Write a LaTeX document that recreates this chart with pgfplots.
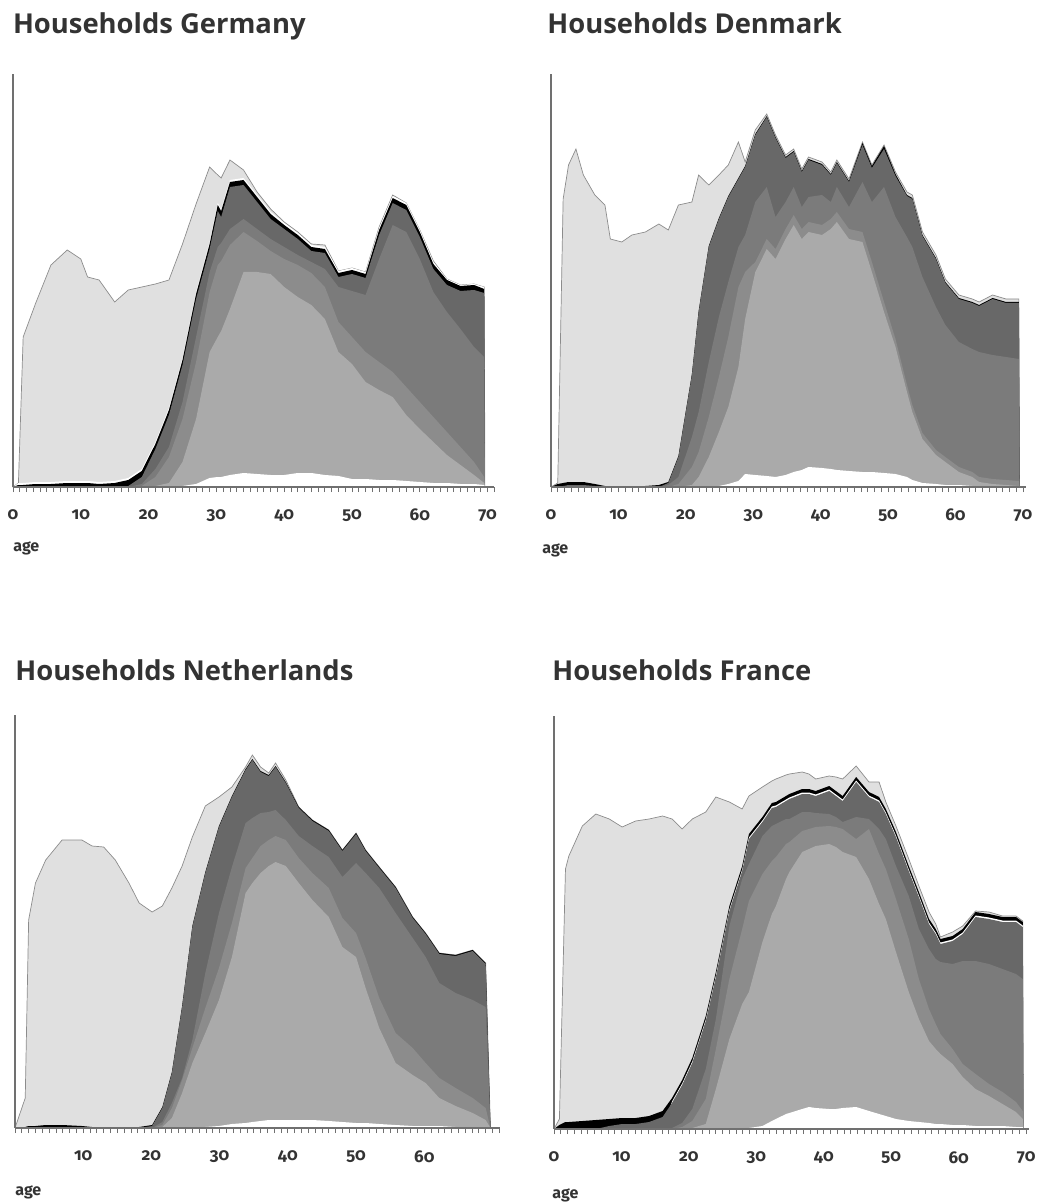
\documentclass[border=0pt]{standalone}
\usepackage{fontspec}
\usepackage{pgfplots}
\usepackage{pgfplotstable}
\pgfplotsset{compat=1.18}

\newfontfamily\titlefont{Open Sans}
\newfontfamily\tickfont{Fira Sans}[Numbers=OldStyle]

\definecolor{ctop}{HTML}{E0E0E0}
\definecolor{cline}{HTML}{8C8C8C}
\definecolor{c2}{HTML}{AAAAAA}
\definecolor{c3}{HTML}{8C8C8C}
\definecolor{c4}{HTML}{7B7B7B}
\definecolor{c5}{HTML}{686868}
\definecolor{caxis}{HTML}{707070}
\definecolor{ctext}{HTML}{333333}

% cumulative layer tops, in px above the axis
% w white, a light grey, b mid grey, c darker grey, d darkest grey, k black, t top (light)
\pgfplotstableread{
age w a b c d k t
0 0 0 0 0 0 0 0
0.8 0 0 0 0 0 2 4
1.5 0 0 0 0 0 2 150
3.3 0 0 0 0 0 3 183
5.6 0 0 0 0 0 3 222
8 0 0 0 0 0 4 237
10 0 0 0 0 0 4 228
11 0 0 0 0 0 4 210
12.7 0 0 0 0 0 3 207
15 0 0 0 0 0 4 185
17 0 0 0 0 1 7 197
19 0 0 1 3 10 16 200
21 0 1 10 18 38 43 203
23 0 4 30 40 72 77 207
25 1 25 68 85 122 127 243
27 3 68 125 150 188 193 283
29 9 135 195 215 238 243 320
30.2 10 150 222 240 276 282 312
30.7 10 156 226 244 270 276 309
32 12 178 242 258 300 305 327
34 14 215 255 268 302 307 317
36 13 215 246 258 285 290 295
38 12 213 236 248 268 273 278
40 12 200 228 240 258 262 265
42 14 190 222 232 248 252 255
44 14 182 214 225 236 240 243
46 12 168 200 218 234 238 242
48 11 135 165 200 210 214 216
50 8 123 150 196 213 217 219
52 8 105 135 192 209 213 215
54 7 97 125 228 252 257 260
56 7 90 115 262 284 289 292
58 6 72 100 255 277 282 284
60 5 58 85 228 250 255 257
62 4 45 70 195 218 223 226
64 4 32 55 175 202 207 208
66 3 22 40 158 196 201 202
68 3 12 25 140 197 202 203
69.5 2 4 10 130 194 198 200
69.6 0 0 0 0 0 0 0
}\gertab

\pgfplotstableread{
age w a b c d k t
0 0 0 0 0 0 0 0
1.0 0 0 0 0 0 3 4
1.8 0 0 0 0 1 4 288
2.6 0 0 0 0 2 5 322
3.7 0 0 0 0 2 5 338
4.8 0 0 0 0 2 5 312
6.5 0 0 0 0 1 3 292
8 0 0 0 0 0 1 282
8.8 0 0 0 0 0 1 248
10.5 0 0 0 0 0 1 245
12 0 0 0 0 0 1 252
14 0 0 0 0 0 1 255
16 0 0 0 0 0 2 263
17.4 0 0 0 2 4 5 257
18.9 0 0 3 10 30 31 282
20.9 0 2 20 50 112 113 285
21.9 0 10 35 75 175 176 312
23.4 0 30 70 125 240 241 302
24.9 1 55 110 170 268 269 312
26.3 3 80 150 205 290 291 322
27.8 6 120 200 240 308 309 345
28.8 13 168 215 252 320 321 325
30.3 12 215 225 285 352 353 357
32 11 238 248 300 370 371 373
33.3 10 228 238 270 349 350 352
34.8 12 248 258 285 329 330 332
36 15 262 272 300 335 336 338
37.2 17 248 258 280 315 316 318
38.2 20 255 265 290 327 328 330
40.2 19 252 262 292 322 323 325
41.5 18 258 268 285 312 313 315
42.4 17 265 275 300 324 325 327
44.2 16 248 258 280 305 306 308
46.2 15 245 255 305 342 344 345
47.6 15 215 225 285 319 321 322
49.4 14 175 185 300 338 341 342
51.1 13 140 148 270 311 313 315
52.8 10 95 102 250 291 292 295
53.6 7 75 82 240 288 289 292
55.1 4 48 54 210 251 252 255
57.1 3 32 37 180 228 229 232
58.5 2 25 30 162 204 205 208
60.5 2 15 20 145 188 189 192
62.5 1 10 15 138 184 185 188
63.5 1 5 10 135 181 182 185
65.5 1 3 8 132 188 189 192
67.5 1 2 7 130 184 185 188
69.4 0 1 6 128 184 185 188
69.5 0 0 0 0 0 0 0
}\dentab

\pgfplotstableread{
age w a b c d k t
0 0 0 0 0 0 0 0
1.5 0 0 0 0 0 1 30
2 0 0 0 0 0 2 208
3 0 0 0 0 0 2 245
4.5 0 0 0 0 1 3 268
6.9 0 0 0 0 1 3 288
9.8 0 0 0 0 0 2 288
11.3 0 0 0 0 0 1 282
13 0 0 0 0 0 1 281
14.7 0 0 0 0 0 1 268
16.7 0 0 0 0 0 1 245
18.2 0 0 0 0 0 1 225
20.1 0 0 0 0 2 3 216
21.6 0 1 3 6 20 21 222
23 0 10 20 25 55 56 240
24.5 0 35 48 50 121 122 262
26 0 65 80 88 201 202 291
27.9 1 95 120 155 255 256 322
29.9 2 128 160 215 301 302 331
31.8 4 171 205 261 331 332 341
33.8 5 235 260 305 358 359 361
34.8 6 245 270 310 368 369 373
36 7 255 282 315 356 357 361
37.2 8 262 288 316 352 353 355
38.2 8 266 292 318 361 362 365
39.7 8 262 288 308 345 346 348
41.6 8 245 270 292 320 321 321
43.6 8 228 255 282 307 308 308
46 7 211 240 271 297 298 298
48 6 181 210 251 277 278 278
50 5 171 195 265 294 295 295
51.4 5 140 170 255 277 278 278
53.4 4 100 130 240 260 261 261
55.8 3 65 95 215 240 241 241
58.3 2 53 80 190 210 211 211
60.2 2 45 65 171 194 195 195
62.2 2 30 50 145 174 175 175
64.6 1 22 40 135 172 173 173
67.1 1 15 30 128 177 178 178
69 1 8 20 121 164 165 165
69.7 0 0 0 0 0 0 0
}\nltab

\pgfplotstableread{
age w a b c d k t
0 0 0 0 0 0 0 0
0.8 0 0 0 0 0 4 10
1.7 0 0 0 0 0 7 260
2.2 0 0 0 0 0 7 273
4.2 0 0 0 0 0 8 303
6.2 0 0 0 0 0 9 315
8.2 0 0 0 0 3 10 310
10.1 0 0 0 0 5 11 302
12.1 0 0 0 0 5 11 308
14.1 0 0 0 0 7 13 310
16.1 0 0 0 0 12 18 313
17.5 0 0 0 1 26 31 310
19 0 0 2 6 44 49 300
20.5 0 1 8 20 66 71 310
22.5 0 5 30 60 108 113 317
24 0 40 80 110 152 157 332
26 0 90 150 203 218 223 327
27.9 0 125 200 250 258 263 320
28.9 1 137 228 265 290 295 333
30.9 3 187 255 293 307 312 342
32.3 8 215 268 303 321 326 348
32.9 10 223 272 305 322 327 350
34.4 15 250 285 310 328 333 354
34.9 16 257 287 310 330 335 355
36.8 20 277 298 317 335 340 357
37.8 22 280 300 317 335 340 355
38.8 21 283 302 316 333 338 350
40.8 20 285 303 315 338 343 353
41.8 20 282 302 312 333 338 352
42.8 21 277 300 307 328 333 350
44.8 22 272 290 312 347 352 363
46.7 18 250 300 310 332 337 347
48.2 15 225 275 300 327 332 347
49.2 13 210 260 290 315 320 327
50.7 10 177 230 263 292 297 303
52.6 8 137 190 233 258 263 270
54.1 7 110 150 200 232 237 243
55.6 6 88 120 180 205 210 217
56.6 5 80 105 170 195 200 205
57.3 5 75 95 167 185 190 192
59.1 4 65 80 165 188 193 197
60.6 4 52 65 168 195 200 203
62.5 3 40 55 168 212 217 218
64.5 3 33 45 165 210 215 217
66.5 3 25 37 160 207 212 213
68.5 2 17 27 155 207 212 213
69.5 2 10 18 150 202 207 208
69.6 0 0 0 0 0 0 0
}\frtab

\pgfplotsset{
  hh/.style={
    scale only axis, height=206.5pt,
    xmin=0, ymin=0, ymax=413,
    axis x line=bottom, axis y line=left,
    axis line style={-, draw=caxis, line width=0.6pt},
    axis on top,
    ytick=\empty,
    minor xtick={0,1,...,71},
    tick align=outside,
    major tick length=2.6pt, minor tick length=2.6pt,
    tick style={draw=caxis, line width=0.4pt},
    xticklabel style={font=\tickfont\bfseries\fontsize{8.5}{10}\selectfont, text=ctext, yshift=-5pt},
  },
  lay/.style={draw=none, fill=#1},
}

\newcommand{\toplayers}[1]{%
  \addplot[fill=ctop, draw=cline, line width=0.35pt] table[x=age,y=t]{#1} \closedcycle;
  \addplot[lay=black] table[x=age,y=k]{#1} \closedcycle;
}
\newcommand{\lowlayers}[1]{%
  \addplot[lay=c5] table[x=age,y=d]{#1} \closedcycle;
  \addplot[lay=c4] table[x=age,y=c]{#1} \closedcycle;
  \addplot[lay=c3] table[x=age,y=b]{#1} \closedcycle;
  \addplot[lay=c2] table[x=age,y=a]{#1} \closedcycle;
  \addplot[lay=white] table[x=age,y=w]{#1} \closedcycle;
}

\begin{document}
\begin{tikzpicture}
\useasboundingbox (0,0) rectangle (519.5pt,-601pt);

% Germany
\begin{axis}[hh, at={(6.5pt,-243.5pt)}, anchor=south west, width=240.7pt, xmax=71,
  xtick={0,10,...,70}, xticklabels={0,10,20,30,40,50,60,70}]
\addplot[fill=ctop, draw=cline, line width=0.35pt] table[x=age,y=t]{\gertab} \closedcycle;
\addplot[lay=white] table[x=age, y expr={min(\thisrow{k}+2,\thisrow{t})}]{\gertab} \closedcycle;
\addplot[lay=black] table[x=age,y=k]{\gertab} \closedcycle;
\lowlayers{\gertab}
\end{axis}

% Denmark
\begin{axis}[hh, at={(275.5pt,-243.5pt)}, anchor=south west, width=237.3pt, xmax=70.4,
  xtick={0,10,...,70}, xticklabels={0,10,20,30,40,50,60,70}]
\toplayers{\dentab}
\lowlayers{\dentab}
\end{axis}

% Netherlands
\begin{axis}[hh, at={(7.5pt,-564pt)}, anchor=south west, width=242.5pt, xmax=71.1,
  xtick={10,20,...,60}, xticklabels={10,20,30,40,50,60}]
\toplayers{\nltab}
\lowlayers{\nltab}
\end{axis}

% France
\begin{axis}[hh, at={(277pt,-564.5pt)}, anchor=south west, width=237.4pt, xmax=70.4,
  xtick={0,10,...,70}, xticklabels={0,10,20,30,40,50,60,70}]
\toplayers{\frtab}
\addplot[lay=white] table[x=age, y expr={\thisrow{k}>25 ? \thisrow{k}-3.5 : 0}]{\frtab} \closedcycle;
\lowlayers{\frtab}
\end{axis}

\begin{scope}[every node/.style={inner sep=0pt, text=ctext}]
\node[anchor=base west, font=\titlefont\bfseries\fontsize{13.7}{16}\selectfont] at (6.3pt,-17pt) {Households Germany};
\node[anchor=base west, font=\titlefont\bfseries\fontsize{13.7}{16}\selectfont] at (273.5pt,-17pt) {Households Denmark};
\node[anchor=base west, font=\titlefont\bfseries\fontsize{13.7}{16}\selectfont] at (7.5pt,-340pt) {Households Netherlands};
\node[anchor=base west, font=\titlefont\bfseries\fontsize{13.7}{16}\selectfont] at (276pt,-340pt) {Households France};
\node[anchor=west, font=\tickfont\bfseries\fontsize{8}{9}\selectfont] at (6.5pt,-274pt) {age};
\node[anchor=west, font=\tickfont\bfseries\fontsize{8}{9}\selectfont] at (271pt,-275pt) {age};
\node[anchor=west, font=\tickfont\bfseries\fontsize{8}{9}\selectfont] at (7.5pt,-596pt) {age};
\node[anchor=west, font=\tickfont\bfseries\fontsize{8}{9}\selectfont] at (276pt,-597.5pt) {age};
\end{scope}
\end{tikzpicture}
\end{document}
